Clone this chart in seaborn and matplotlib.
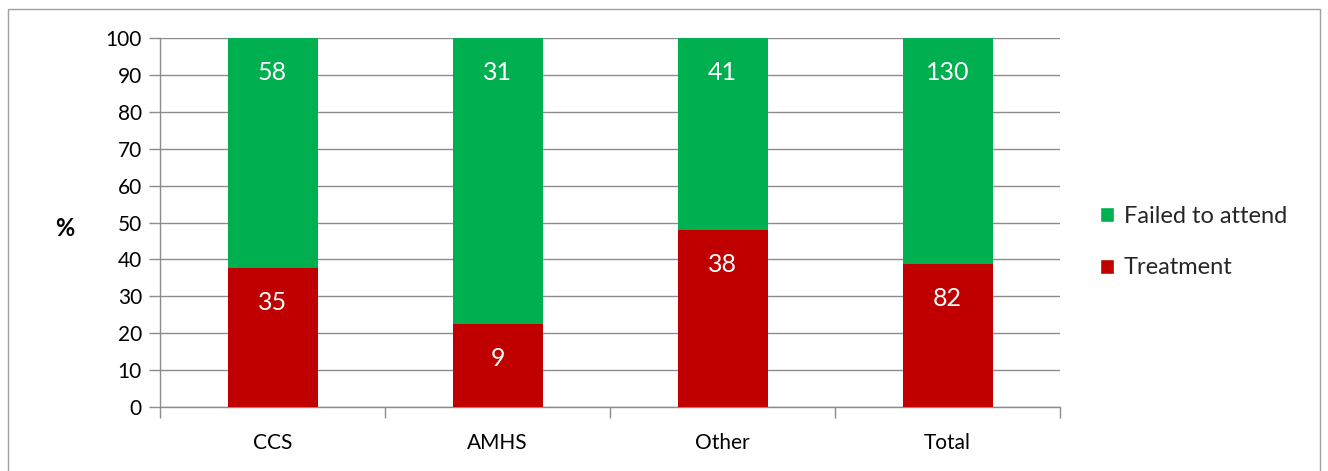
import numpy as np
import pandas as pd
import matplotlib
matplotlib.use("Agg")
import matplotlib.pyplot as plt
from matplotlib.patches import Rectangle, Patch
import seaborn as sns

# Counts per service
categories = ["CCS", "AMHS", "Other", "Total"]
treatment = [35, 9, 38, 82]
failed = [58, 31, 41, 130]
y_ticks = [0, 10, 20, 30, 40, 50, 60, 70, 80, 90, 100]

GREEN = "#00B050"
RED = "#C00000"
GRID = "#8C8C8C"

sns.set_theme(style="white")
plt.rcParams["font.family"] = ["Lato", "DejaVu Sans"]

tot = np.array(treatment) + np.array(failed)
treat_pct = 100 * np.array(treatment) / tot
df = pd.DataFrame({"cat": categories, "full": 100.0, "treat": treat_pct})

fig = plt.figure(figsize=(13.28, 4.71), dpi=100)
ax = fig.add_axes([0.1205, 0.1359, 0.6777, 0.7834])

sns.barplot(data=df, x="cat", y="full", color=GREEN, saturation=1, width=0.4, ax=ax, zorder=3)
sns.barplot(data=df, x="cat", y="treat", color=RED, saturation=1, width=0.4, ax=ax, zorder=3)
for p in ax.patches:
    p.set_edgecolor("none")

# Labels placed just inside the top of each segment
for i, (t, f, tp) in enumerate(zip(treatment, failed, treat_pct)):
    ax.annotate(str(f), xy=(i, 100), xytext=(0, -25), textcoords="offset points",
                ha="center", va="center", color="white", fontsize=18, zorder=4)
    ax.annotate(str(t), xy=(i, tp), xytext=(0, -25), textcoords="offset points",
                ha="center", va="center", color="white", fontsize=18, zorder=4)

ax.set_xlim(-0.5, 3.5)
ax.set_ylim(0, 100)
ax.set_yticks(y_ticks)
ax.yaxis.grid(True, color=GRID, linewidth=1, zorder=0)
ax.set_axisbelow(True)
ax.tick_params(axis="y", which="major", left=True, length=8, width=1, color=GRID,
               labelsize=15, pad=5, labelcolor="black")
# Category ticks sit between groups
ax.set_xticks(np.arange(4))
ax.set_xticklabels(categories)
ax.tick_params(axis="x", which="major", bottom=False, labelsize=15, pad=13, labelcolor="black")
ax.set_xticks(np.arange(-0.5, 4.0, 1.0), minor=True)
ax.tick_params(axis="x", which="minor", bottom=True, length=8, width=1, color=GRID)

for s in ["top", "right"]:
    ax.spines[s].set_visible(False)
for s in ["left", "bottom"]:
    ax.spines[s].set_color(GRID)
    ax.spines[s].set_linewidth(1)
ax.set_xlabel("")
ax.set_ylabel("%", rotation=0, fontsize=17, fontweight="bold", va="center", ha="center",
              color="black")
ax.yaxis.set_label_coords(-0.1056, 0.485)

handles = [Patch(facecolor=GREEN, label="Failed to attend"),
           Patch(facecolor=RED, label="Treatment")]
fig.legend(handles=handles, loc="center left", bbox_to_anchor=(0.8125, 0.486),
           frameon=False, fontsize=17, handlelength=0.6, handleheight=0.6,
           handletextpad=0.4, labelspacing=1.3)

# Outer chart border
fig.patches.append(Rectangle((8 / 1328, -0.05), 1312 / 1328, 1.05 - 9 / 471,
                             transform=fig.transFigure, fill=False,
                             edgecolor="#A0A0A0", linewidth=1))

fig.savefig("out.png", dpi=100)
